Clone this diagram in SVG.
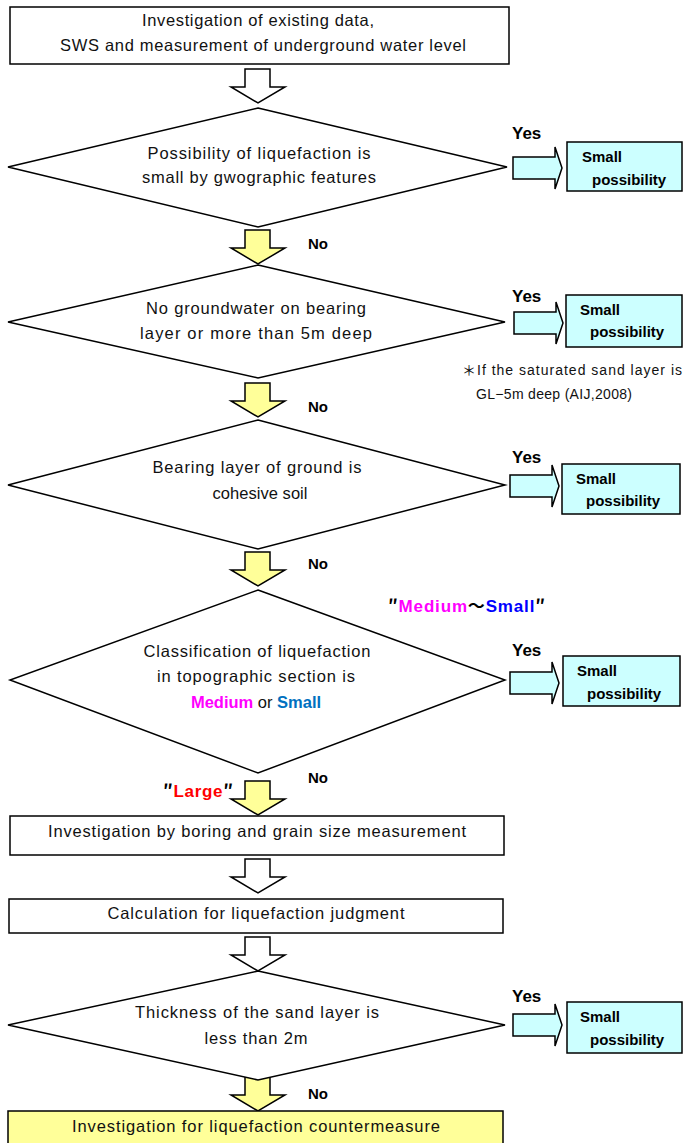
<svg xmlns="http://www.w3.org/2000/svg" xmlns:xlink="http://www.w3.org/1999/xlink" width="683" height="1143" viewBox="0 0 683 1143">
<style>
.box{fill:#fff;stroke:#000;stroke-width:1.5}
.ybox{fill:#FFFF99;stroke:#000;stroke-width:1.5}
.dia{fill:#fff;stroke:#000;stroke-width:1.5}
.res{fill:#CCFFFF;stroke:#000;stroke-width:1.5}
.wa{fill:#fff;stroke:#000;stroke-width:1.5;stroke-linejoin:miter}
.ya{fill:#FFFF99;stroke:#000;stroke-width:1.5}
.ra{fill:#CCFFFF;stroke:#000;stroke-width:1.5}
.t{font-family:"Liberation Sans",Arial,sans-serif;font-size:16.5px;fill:#111;text-anchor:middle}
.b{font-family:"Liberation Sans",Arial,sans-serif;font-size:15px;font-weight:bold;fill:#000}
.y{font-size:17px}
.n{font-family:"Liberation Sans",Arial,"Noto Sans CJK JP",sans-serif;font-size:14px;fill:#111}
.cjk{font-family:"Noto Sans CJK JP",sans-serif}
</style>
<defs>
<path id="down" d="M-13,0 H12 V18 H27 L0,34 L-27,18 H-13 Z"/>
<path id="right" d="M0,-11 H42 V-21 L49,0 L42,21 V11 H0 Z"/>
</defs>

<g id="connectors">
<use xlink:href="#down" class="wa" x="258" y="69"/>
<use xlink:href="#down" class="ya" x="258" y="230"/>
<use xlink:href="#down" class="ya" x="258" y="383"/>
<use xlink:href="#down" class="ya" x="258" y="552"/>
<use xlink:href="#down" class="ya" x="258" y="781"/>
<use xlink:href="#down" class="wa" x="258" y="859"/>
<use xlink:href="#down" class="wa" x="258" y="937"/>
<use xlink:href="#down" class="ya" x="258" y="1077"/>
<use xlink:href="#right" class="ra" x="513" y="168"/>
<use xlink:href="#right" class="ra" x="514" y="323"/>
<use xlink:href="#right" class="ra" x="510" y="486"/>
<use xlink:href="#right" class="ra" x="510" y="683"/>
<use xlink:href="#right" class="ra" x="513" y="1025"/>
<text class="b y" x="512" y="139">Yes</text>
<text class="b y" x="512" y="302">Yes</text>
<text class="b y" x="512" y="463">Yes</text>
<text class="b y" x="512" y="656">Yes</text>
<text class="b y" x="512" y="1002">Yes</text>
<text class="b" x="308" y="249">No</text>
<text class="b" x="308" y="412">No</text>
<text class="b" x="308" y="569">No</text>
<text class="b" x="308" y="783">No</text>
<text class="b" x="308" y="1099">No</text>
<text class="b y" x="163" y="797" textLength="70"><tspan class="cjk" fill="#000">″</tspan><tspan fill="#FF0000">Large</tspan><tspan class="cjk" fill="#000">″</tspan></text>
<text class="b y" x="388" y="612" textLength="157"><tspan class="cjk" fill="#000">″</tspan><tspan fill="#FF00FF">Medium</tspan><tspan class="cjk" fill="#000">～</tspan><tspan fill="#0000FF">Small</tspan><tspan class="cjk" fill="#000">″</tspan></text>
</g>

<g id="start">
<rect class="box" x="10" y="7" width="499" height="57"/>
<text class="t" x="258" y="26" textLength="232">Investigation of existing data,</text>
<text class="t" x="263" y="51" textLength="406">SWS and measurement of underground water level</text>
</g>

<g id="q1">
<polygon class="dia" points="258,108 507,167 258,227 8,167"/>
<text class="t" x="259" y="159" textLength="223">Possibility of liquefaction is</text>
<text class="t" x="259" y="183" textLength="234">small by gwographic features</text>
</g>
<g id="r1">
<rect class="res" x="567" y="142" width="115" height="49"/>
<text class="b" x="582" y="162">Small</text>
<text class="b" x="592" y="185">possibility</text>
</g>

<g id="q2">
<polygon class="dia" points="258,265 505,322 258,378 8,322"/>
<text class="t" x="256" y="314" textLength="220">No groundwater on bearing</text>
<text class="t" x="256" y="339" textLength="232">layer or  more than 5m deep</text>
</g>
<g id="r2">
<rect class="res" x="566" y="295" width="116" height="52"/>
<text class="b" x="580" y="315">Small</text>
<text class="b" x="590" y="337">possibility</text>
</g>
<g id="note">
<text class="n" x="462" y="375" textLength="220"><tspan class="cjk">＊</tspan>If the saturated sand layer is</text>
<text class="n" x="476" y="399" textLength="156">GL−5m deep (AIJ,2008)</text>
</g>

<g id="q3">
<polygon class="dia" points="258,420 505,485 258,549 8,485"/>
<text class="t" x="257" y="473" textLength="209">Bearing layer of ground is</text>
<text class="t" x="260" y="499" textLength="95">cohesive soil</text>
</g>
<g id="r3">
<rect class="res" x="562" y="464" width="118" height="50"/>
<text class="b" x="576" y="484">Small</text>
<text class="b" x="586" y="506">possibility</text>
</g>

<g id="q4">
<polygon class="dia" points="258,590 505,680 258,773 10,680"/>
<text class="t" x="257" y="657" textLength="227">Classification of liquefaction</text>
<text class="t" x="256" y="682" textLength="198">in topographic section is</text>
<text class="t" x="256" y="708"><tspan fill="#FF00FF" font-weight="bold">Medium</tspan> or <tspan fill="#0070C0" font-weight="bold">Small</tspan></text>
</g>
<g id="r4">
<rect class="res" x="563" y="656" width="117" height="50"/>
<text class="b" x="577" y="676">Small</text>
<text class="b" x="587" y="699">possibility</text>
</g>

<g id="boring">
<rect class="box" x="10" y="816" width="494" height="39"/>
<text class="t" x="257" y="837" textLength="418">Investigation by boring and grain size measurement</text>
</g>

<g id="calc">
<rect class="box" x="9" y="899" width="494" height="34"/>
<text class="t" x="256" y="919" textLength="297">Calculation for liquefaction judgment</text>
</g>

<g id="q5">
<polygon class="dia" points="258,971 505,1025 258,1080 8,1025"/>
<text class="t" x="257" y="1018" textLength="244">Thickness of the sand layer is</text>
<text class="t" x="256" y="1044" textLength="103">less than 2m</text>
</g>
<g id="r5">
<rect class="res" x="567" y="1002" width="115" height="51"/>
<text class="b" x="580" y="1022">Small</text>
<text class="b" x="590" y="1045">possibility</text>
</g>

<g id="end">
<rect class="ybox" x="8" y="1111" width="495" height="40"/>
<text class="t" x="256" y="1132" textLength="368">Investigation for liquefaction countermeasure</text>
</g>
</svg>
